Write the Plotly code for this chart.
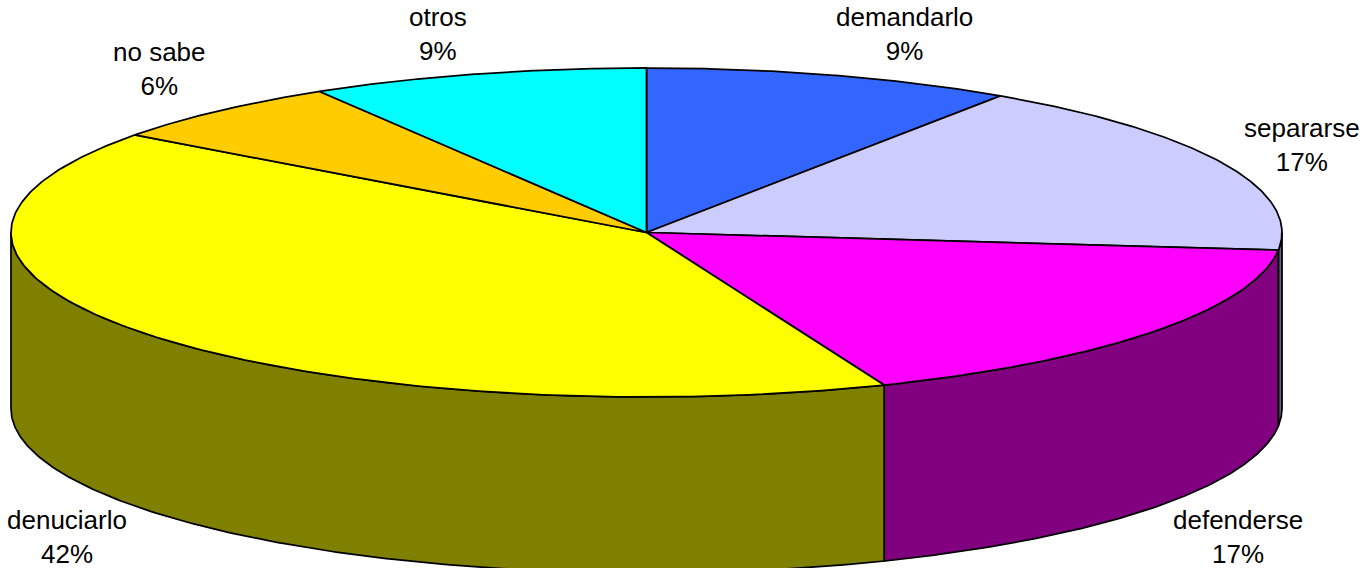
import numpy as np
import plotly.graph_objects as go

categories = ["demandarlo", "separarse", "defenderse", "denuciarlo", "no sabe", "otros"]
values = [9.4, 17.3, 17.2, 41.2, 6.3, 8.6]
labels_pct = ["9%", "17%", "17%", "42%", "6%", "9%"]
top_colors = ["#3366FF", "#CCCCFF", "#FF00FF", "#FFFF00", "#FFCC00", "#00FFFF"]
side_colors = ["#1A3380", "#666680", "#800080", "#808000", "#806600", "#008080"]
label_centers = [(904, 34), (1302, 145), (1238, 537), (67, 537), (159.5, 69), (438, 34)]

W, H = 1361, 568
CX, CY, RX, RY, DEPTH = 646.5, 232.5, 635.5, 164.5, 176


def px(t):
    return CX + RX * np.sin(t), CY - RY * np.cos(t)


fig = go.Figure()
edges = np.cumsum([0] + values) / sum(values) * 2 * np.pi
LINE = dict(color="black", width=1.75)

# side walls: only the front half of the rim is visible
for i in range(len(values)):
    a, b = max(edges[i], np.pi / 2), min(edges[i + 1], 3 * np.pi / 2)
    if a >= b:
        continue
    t = np.linspace(a, b, 200)
    x, y = px(t)
    fig.add_trace(go.Scatter(
        x=np.r_[x, x[::-1], x[0]], y=np.r_[y, y[::-1] + DEPTH, y[0]],
        mode="lines", fill="toself", fillcolor=side_colors[i], line=LINE,
        hoverinfo="skip", showlegend=False))

# top face
for i in range(len(values)):
    t = np.linspace(edges[i], edges[i + 1], 200)
    x, y = px(t)
    fig.add_trace(go.Scatter(
        x=np.r_[CX, x, CX], y=np.r_[CY, y, CY],
        mode="lines", fill="toself", fillcolor=top_colors[i], line=LINE,
        hoverinfo="skip", showlegend=False))

for name, pct, (lx, ly) in zip(categories, labels_pct, label_centers):
    fig.add_annotation(x=lx, y=ly, text=f"{name}<br>{pct}", showarrow=False,
                       xanchor="center", yanchor="middle", align="center",
                       font=dict(family="Liberation Sans, Arial", size=26, color="black"))

fig.update_xaxes(range=[0, W], visible=False, fixedrange=True)
fig.update_yaxes(range=[H, 0], visible=False, fixedrange=True)
fig.update_layout(width=W, height=H, margin=dict(l=0, r=0, t=0, b=0),
                  plot_bgcolor="white", paper_bgcolor="white", showlegend=False)
fig.write_html("out.html", config={"displayModeBar": False},
               post_script="document.body.style.margin='0';")
